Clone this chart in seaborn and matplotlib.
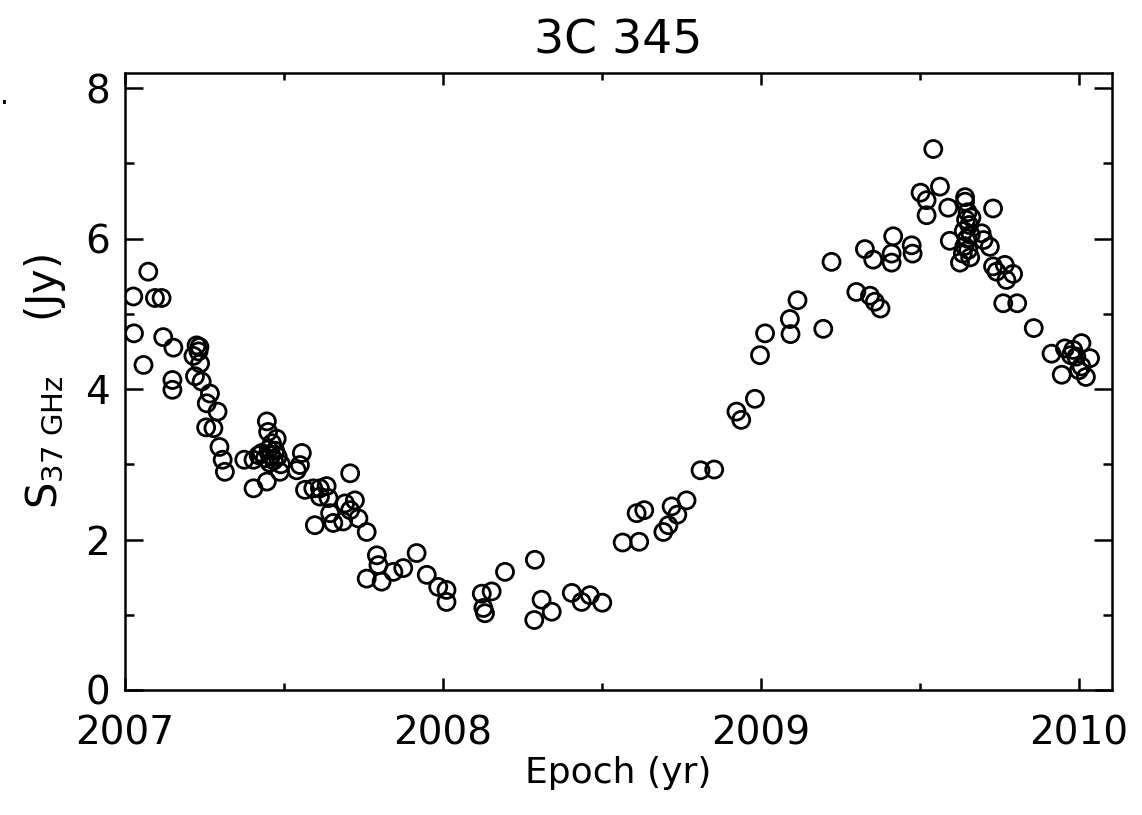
import numpy as np
import pandas as pd
import matplotlib
matplotlib.use("Agg")
import matplotlib.pyplot as plt
from matplotlib.ticker import MultipleLocator
import seaborn as sns

# ===============================
# DATA
# ===============================
epoch = [
    2007.026, 2007.028, 2007.058, 2007.073, 2007.094, 2007.115, 2007.120, 2007.149,
    2007.149, 2007.152, 2007.215, 2007.220, 2007.225, 2007.231, 2007.234, 2007.236,
    2007.241, 2007.255, 2007.257, 2007.267, 2007.278, 2007.291, 2007.297, 2007.307,
    2007.314, 2007.375, 2007.404, 2007.404, 2007.420, 2007.430, 2007.440, 2007.446,
    2007.446, 2007.450, 2007.452, 2007.455, 2007.460, 2007.462, 2007.468, 2007.472,
    2007.477, 2007.480, 2007.487, 2007.490, 2007.540, 2007.550, 2007.556, 2007.566,
    2007.592, 2007.597, 2007.613, 2007.613, 2007.634, 2007.640, 2007.645, 2007.655,
    2007.686, 2007.692, 2007.708, 2007.708, 2007.723, 2007.734, 2007.760, 2007.760,
    2007.792, 2007.797, 2007.807, 2007.844, 2007.875, 2007.917, 2007.949, 2007.985,
    2008.011, 2008.011, 2008.122, 2008.127, 2008.132, 2008.153, 2008.195, 2008.287,
    2008.289, 2008.310, 2008.342, 2008.405, 2008.436, 2008.462, 2008.501, 2008.565,
    2008.609, 2008.617, 2008.633, 2008.693, 2008.709, 2008.719, 2008.737, 2008.766,
    2008.810, 2008.853, 2008.923, 2008.938, 2008.981, 2008.997, 2009.013, 2009.091,
    2009.093, 2009.115, 2009.196, 2009.222, 2009.300, 2009.327, 2009.343, 2009.353,
    2009.358, 2009.376, 2009.411, 2009.411, 2009.416, 2009.474, 2009.477, 2009.502,
    2009.521, 2009.521, 2009.542, 2009.563, 2009.589, 2009.594, 2009.626, 2009.635,
    2009.638, 2009.640, 2009.642, 2009.642, 2009.645, 2009.648, 2009.650, 2009.652,
    2009.655, 2009.658, 2009.660, 2009.662, 2009.694, 2009.700, 2009.720, 2009.730,
    2009.730, 2009.741, 2009.762, 2009.767, 2009.772, 2009.793, 2009.806, 2009.858,
    2009.914, 2009.946, 2009.956, 2009.975, 2009.982, 2009.992, 2010.000, 2010.008,
    2010.008, 2010.022, 2010.035,
]
flux = [
    5.23, 4.74, 4.32, 5.56, 5.21, 5.21, 4.69, 4.12,
    3.99, 4.55, 4.44, 4.17, 4.58, 4.50, 4.56, 4.34,
    4.10, 3.49, 3.81, 3.94, 3.48, 3.70, 3.23, 3.06,
    2.90, 3.06, 3.06, 2.68, 3.12, 3.15, 3.08, 3.57,
    2.77, 3.43, 3.20, 3.02, 3.12, 3.28, 3.05, 3.18,
    3.34, 3.10, 2.90, 3.00, 2.92, 2.99, 3.15, 2.66,
    2.68, 2.19, 2.68, 2.57, 2.71, 2.55, 2.35, 2.22,
    2.24, 2.48, 2.88, 2.39, 2.52, 2.28, 2.10, 1.48,
    1.79, 1.66, 1.44, 1.57, 1.62, 1.82, 1.53, 1.37,
    1.33, 1.17, 1.28, 1.09, 1.02, 1.31, 1.57, 0.93,
    1.73, 1.20, 1.04, 1.29, 1.17, 1.26, 1.16, 1.96,
    2.35, 1.97, 2.39, 2.10, 2.19, 2.44, 2.33, 2.52,
    2.92, 2.93, 3.70, 3.59, 3.87, 4.45, 4.74, 4.93,
    4.73, 5.18, 4.80, 5.69, 5.29, 5.86, 5.24, 5.72,
    5.16, 5.07, 5.80, 5.68, 6.03, 5.91, 5.80, 6.61,
    6.51, 6.31, 7.19, 6.69, 6.41, 5.97, 5.68, 5.80,
    6.10, 5.90, 6.55, 6.49, 6.25, 6.00, 6.35, 5.85,
    6.18, 5.75, 6.05, 6.28, 6.07, 5.98, 5.89, 6.40,
    5.63, 5.56, 5.14, 5.65, 5.45, 5.53, 5.14, 4.81,
    4.47, 4.19, 4.54, 4.45, 4.52, 4.43, 4.25, 4.61,
    4.30, 4.16, 4.41,
]

TITLE = "3C 345"
XLABEL = "Epoch (yr)"
YLABEL = r"S$_{\rm 37\ GHz}$    (Jy)"
XTICKS = [2007, 2008, 2009, 2010]
YTICKS = [0, 2, 4, 6, 8]

df = pd.DataFrame({"epoch": epoch, "flux": flux})

# ===============================
# PLOT
# ===============================
sns.set_style("white")
plt.rcParams["font.family"] = ["DejaVu Sans"]
plt.rcParams["text.color"] = "black"
plt.rcParams["axes.labelcolor"] = "black"

fig = plt.figure(figsize=(11.42, 8.15), dpi=100)
ax = fig.add_axes([0.1095, 0.1534, 0.8642, 0.757])

sns.scatterplot(
    data=df, x="epoch", y="flux", ax=ax,
    marker="o", s=150, facecolors="none",
    edgecolors="black", linewidths=2.0, legend=False,
)

ax.set_xlim(2007.0, 2010.104)
ax.set_ylim(0, 8.2)
ax.set_xticks(XTICKS)
ax.set_xticklabels([str(t) for t in XTICKS])
ax.set_yticks(YTICKS)
ax.set_yticklabels([str(t) for t in YTICKS])
ax.xaxis.set_minor_locator(MultipleLocator(0.5))
ax.yaxis.set_minor_locator(MultipleLocator(1))

for sp in ax.spines.values():
    sp.set_color("black")
    sp.set_linewidth(1.8)

ax.tick_params(axis="both", which="both", direction="in",
               bottom=True, left=True, top=True, right=True,
               color="black", width=1.8, labelcolor="black")
ax.tick_params(axis="x", which="major", length=8.6, labelsize=28, pad=18)
ax.tick_params(axis="x", which="minor", length=5)
ax.tick_params(axis="y", which="major", length=13, labelsize=28, pad=11)
ax.tick_params(axis="y", which="minor", length=6.5)

ax.set_title(TITLE, fontsize=34, pad=14, color="black")
ax.set_xlabel(XLABEL, fontsize=26, labelpad=2, color="black")
ax.set_ylabel(YLABEL, fontsize=30, labelpad=12, color="black")

fig.text(0.0, 0.872, ".", fontsize=20, color="black")

fig.savefig("out.png", dpi=100)
